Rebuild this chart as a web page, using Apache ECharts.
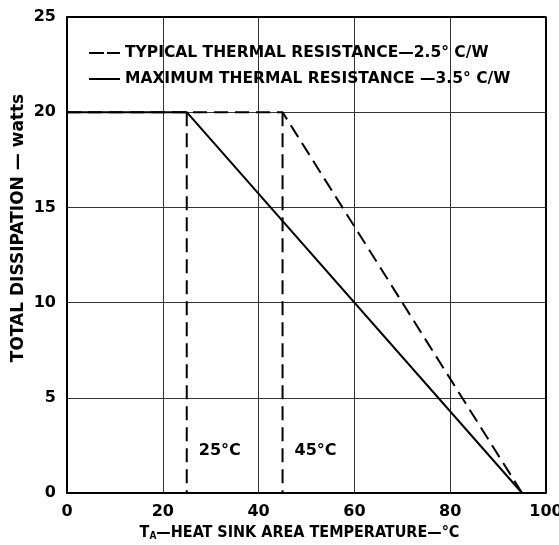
<!DOCTYPE html>
<html><head><meta charset="utf-8">
<script src="https://cdn.jsdelivr.net/npm/echarts@6/dist/echarts.min.js"></script>
<style>html,body{margin:0;padding:0;background:#fff}#c{width:559px;height:545px}</style>
</head><body><div id="c"></div>
<script>
const typicalName = 'TYPICAL THERMAL RESISTANCE\u20142.5\u00b0 C/W';
const maximumName = 'MAXIMUM THERMAL RESISTANCE \u20143.5\u00b0 C/W';
const typicalCurve = [[0, 20], [45, 20], [95, 0]];
const maximumCurve = [[0, 20], [25, 20], [95, 0]];
const kneeTemps = [25, 45];
const kneePower = 20;
const kneeLabels = ['25\u00b0C', '45\u00b0C'];
const kneeLabelY = 2.2;
const xTicks = [0, 20, 40, 60, 80, 100];
const yTicks = [0, 5, 10, 15, 20, 25];
const yAxisTitle = 'TOTAL DISSIPATION \u2014 watts';

const FONT = '"DejaVu Sans", sans-serif';
const FONT_C = '"DejaVu Sans Condensed", "DejaVu Sans", sans-serif';
const INK = '#000';
const chart = echarts.init(document.getElementById('c'), null, {renderer: 'canvas'});

const vertSeries = kneeTemps.map((t, i) => ({
  type: 'line', name: 'knee' + i, data: [[t, kneePower], [t, 0]],
  symbol: 'none', silent: true,
  lineStyle: {color: INK, width: 2, type: [14, 7]}
}));

chart.setOption({
  animation: false,
  backgroundColor: '#fff',
  textStyle: {fontFamily: FONT},
  grid: {left: 67, right: 13, top: 17, bottom: 52, outerBoundsMode: 'none', containLabel: false},
  graphic: [{
    type: 'text', x: 19, y: 228, rotation: Math.PI / 2, silent: true,
    style: {text: yAxisTitle, align: 'center', verticalAlign: 'middle',
      fontFamily: FONT, fontWeight: 'bold', fontSize: 17, fill: INK}
  }],
  legend: {
    data: [
      {name: typicalName, icon: 'path://M0,0h15v2h-15z M18,0h13v2h-13z'},
      {name: maximumName, icon: 'path://M0,0h31v2h-31z'}
    ],
    orient: 'vertical', left: 84, top: 40, itemGap: 10,
    itemWidth: 31, itemHeight: 2,
    itemStyle: {color: INK, borderWidth: 0},
    lineStyle: {width: 0},
    textStyle: {fontFamily: FONT, fontWeight: 'bold', fontSize: 15.5, color: INK}
  },
  xAxis: {
    type: 'value', min: 0, max: 100, interval: 20,
    name: '{t|T}{s|A}{t|\u2014HEAT SINK AREA TEMPERATURE\u2014\u00b0C}',
    nameLocation: 'middle', nameGap: 30,
    nameTextStyle: {padding: [0, 14, 0, 0], rich: {
      t: {fontFamily: FONT_C, fontWeight: 'bold', fontSize: 16, color: INK},
      s: {fontFamily: FONT_C, fontWeight: 'bold', fontSize: 10, color: INK, verticalAlign: 'bottom', padding: [8, 0, 0, 0]}
    }},
    axisLine: {show: true, onZero: false, lineStyle: {color: INK, width: 2}},
    axisTick: {show: false},
    axisLabel: {fontFamily: FONT, fontWeight: 'bold', fontSize: 16, color: INK, margin: 11,
      formatter: v => xTicks.includes(v) ? String(v) : ''},
    splitLine: {show: true, lineStyle: {color: '#333', width: 1}}
  },
  yAxis: {
    type: 'value', min: 0, max: 25, interval: 5,
    axisLine: {show: true, onZero: false, lineStyle: {color: INK, width: 2}},
    axisTick: {show: false},
    axisLabel: {fontFamily: FONT, fontWeight: 'bold', fontSize: 16, color: INK, margin: 11,
      formatter: v => yTicks.includes(v) ? String(v) : ''},
    splitLine: {show: true, lineStyle: {color: '#333', width: 1}}
  },
  series: [
    {type: 'line', name: typicalName, data: typicalCurve, symbol: 'none',
     lineStyle: {color: INK, width: 2, type: [14, 7]}, itemStyle: {color: INK}},
    {type: 'line', name: maximumName, data: maximumCurve, symbol: 'none',
     lineStyle: {color: INK, width: 2, type: 'solid'}, itemStyle: {color: INK}},
    ...vertSeries,
    {type: 'scatter', name: 'kneeLabels', silent: true, symbolSize: 0,
     itemStyle: {opacity: 1},
     data: kneeTemps.map((t, i) => ({value: [t, kneeLabelY], label: {formatter: kneeLabels[i]}})),
     label: {show: true, position: 'right', distance: 12, opacity: 1,
       fontFamily: FONT, fontWeight: 'bold', fontSize: 16, color: INK}},
    {type: 'line', name: 'frame', data: [[0, 25], [100, 25], [100, 0]], symbol: 'none', silent: true,
     lineStyle: {color: INK, width: 2}}
  ]
});
</script></body></html>
